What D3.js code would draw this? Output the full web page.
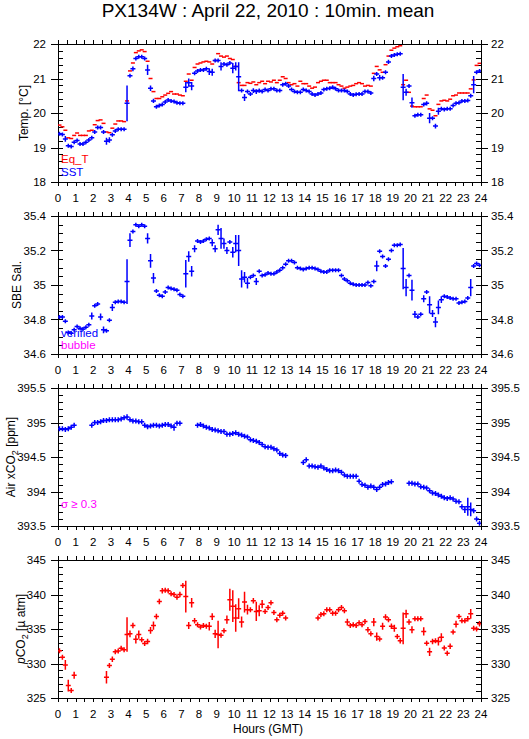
<!DOCTYPE html>
<meta charset="utf-8">
<style>
body { margin: 0; background: #fff; }
text { font-family: "Liberation Sans", Arial, sans-serif; fill: #000; }
.frame { fill: none; stroke: #000; stroke-width: 1px; }
.tick { stroke: #000; stroke-width: 1px; shape-rendering: crispEdges; }
</style>
<body>
<script src="https://d3js.org/d3.v7.min.js"></script>
<script>

var width = 529, height = 739;

var hours = d3.range(0, 25);

// 10 min means, 144 per series (index i is centred at (i + 0.5) / 6 h)
var eqT = [
  19.65, 19.60, 19.50, 19.28, 19.26, 19.35,
  19.42, 19.35, 19.35, 19.35, 19.48, 19.50,
  19.66, 19.78, 19.80, 19.70, 19.45, 19.43,
  19.56, 19.68, 19.77, 19.77, 19.75, 20.35,
  21.22, 21.45, 21.75, 21.80, 21.83, 21.78,
  21.50, 21.00, 20.62, 20.42, 20.42, 20.47,
  20.52, 20.57, 20.62, 20.55, 20.55, 20.52,
  20.50, 20.92, 21.13, 20.95, 21.32, 21.42,
  21.45, 21.48, 21.50, 21.48, 21.42, 21.52,
  21.72, 21.65, 21.62, 21.65, 21.58, 21.55,
  21.35, 20.88, 20.80, 20.80, 20.88, 20.86,
  20.90, 20.82, 20.88, 20.92, 20.85, 20.92,
  20.90, 20.95, 20.88, 20.95, 21.05, 21.00,
  20.88, 20.82, 20.85, 20.78, 20.92, 20.85,
  20.85, 20.78, 20.72, 20.75, 20.88, 20.92,
  20.95, 20.95, 20.88, 20.88, 20.88, 20.82,
  20.78, 20.72, 20.75, 20.78, 20.80, 20.85,
  20.88, 20.85, 20.78, 20.80, 20.78, 21.15,
  21.35, 21.25, 21.18, 21.40, 21.65, 21.82,
  21.88, 21.92, 21.95, 20.82, 20.95, 20.60,
  20.20, 20.18, 20.18, 20.18, 20.42, 20.52,
  20.12, 20.08, 19.92, 20.25, 20.35, 20.37,
  20.35, 20.40, 20.50, 20.52, 20.58, 20.58,
  20.58, 20.58, 20.70, 20.96, 21.38, 21.44
];

var sst = [
  19.40, 19.38, 19.25, 19.05, 19.03, 19.15,
  19.20, 19.10, 19.10, 19.15, 19.22, 19.28,
  19.45, 19.58, 19.58, 19.45, 19.18, 19.22,
  19.37, 19.48, 19.53, 19.53, 19.53, 20.28,
  21.08, 21.28, 21.58, 21.63, 21.63, 21.58,
  21.25, 20.72, 20.35, 20.18, 20.22, 20.25,
  20.32, 20.38, 20.35, 20.33, 20.30, 20.28,
  20.28, 20.75, 20.88, 20.78, 21.15, 21.22,
  21.25, 21.25, 21.28, 21.20, 21.18, 21.52,
  21.52, 21.35, 21.42, 21.40, 21.45, 21.30,
  21.35, 21.05, 20.65, 20.45, 20.62, 20.55,
  20.65, 20.62, 20.65, 20.62, 20.68, 20.65,
  20.70, 20.70, 20.65, 20.65, 20.82, 20.85,
  20.78, 20.68, 20.62, 20.60, 20.60, 20.68,
  20.65, 20.62, 20.55, 20.52, 20.55, 20.58,
  20.68, 20.70, 20.72, 20.75, 20.70, 20.65,
  20.65, 20.65, 20.62, 20.55, 20.52, 20.54,
  20.55, 20.55, 20.62, 20.62, 20.58, 21.00,
  21.13, 21.02, 21.02, 21.18, 21.48, 21.65,
  21.68, 21.70, 21.72, 20.75, 20.60, 20.78,
  20.30, 19.92, 19.95, 19.95, 20.25, 20.28,
  19.85, 19.85, 19.62, 20.05, 20.12, 20.10,
  20.12, 20.12, 20.22, 20.28, 20.30, 20.35,
  20.35, 20.36, 20.50, 20.82, 21.18, 21.22
];

var sstSd = [
  .02, .02, .08, .02, .02, .03,
  .03, .02, .02, .02, .02, .03,
  .03, .02, .02, .02, .10, .08,
  .02, .02, .02, .02, .02, .52,
  .06, .07, .03, .02, .02, .02,
  .15, .08, .06, .02, .02, .02,
  .02, .02, .02, .02, .02, .02,
  .02, .15, .12, .12, .03, .03,
  .02, .02, .02, .10, .10, .03,
  .03, .12, .03, .02, .03, .15,
  .12, .42, .05, .10, .05, .05,
  .07, .07, .06, .05, .02, .02,
  .02, .02, .02, .02, .03, .02,
  .02, .02, .03, .02, .02, .02,
  .02, .02, .02, .02, .02, .02,
  .02, .02, .02, .02, .02, .02,
  .02, .02, .02, .02, .02, .02,
  .02, .02, .02, .03, .03, .08,
  .03, .08, .05, .03, .06, .03,
  .03, .02, .02, .38, .10, .05,
  .15, .03, .03, .05, .03, .06,
  .15, .05, .07, .10, .05, .03,
  .03, .02, .02, .02, .02, .02,
  .02, .02, .04, .25, .03, .02
];

var sal = [
  34.815, 34.815, 34.790, 34.725, 34.720, 34.740,
  34.760, 34.750, 34.745, 34.755, 34.770, 34.820,
  34.880, 34.890, 34.815, 34.740, 34.735, 34.795,
  34.870, 34.900, 34.905, 34.905, 34.900, 35.020,
  35.260, 35.310, 35.350, 35.340, 35.350, 35.340,
  35.270, 35.140, 35.040, 34.965, 34.940, 34.935,
  34.960, 34.985, 34.980, 34.975, 34.970, 34.945,
  34.935, 35.065, 35.165, 35.080, 35.210, 35.255,
  35.250, 35.255, 35.265, 35.270, 35.245, 35.210,
  35.320, 35.270, 35.240, 35.200, 35.250, 35.190,
  35.240, 35.200, 35.035, 35.045, 35.010, 35.045,
  35.055, 35.020, 35.080, 35.055, 35.060, 35.070,
  35.065, 35.065, 35.075, 35.085, 35.100, 35.120,
  35.140, 35.140, 35.130, 35.100, 35.095, 35.090,
  35.095, 35.100, 35.100, 35.095, 35.090, 35.080,
  35.075, 35.075, 35.085, 35.085, 35.085, 35.085,
  35.055, 35.035, 35.025, 35.010, 35.005, 35.000,
  35.000, 35.000, 35.000, 35.015, 34.995, 35.020,
  35.110, 35.195, 35.165, 35.110, 35.150, 35.200,
  35.230, 35.230, 35.235, 35.095, 34.985, 35.055,
  34.970, 34.830, 34.815, 34.830, 34.920, 34.960,
  34.885, 34.835, 34.785, 34.870, 34.915, 34.935,
  34.930, 34.925, 34.920, 34.920, 34.895, 34.900,
  34.905, 34.925, 34.985, 35.110, 35.125, 35.115
];

var salSd = [
  .005, .005, .010, .010, .005, .010,
  .010, .010, .010, .010, .010, .020,
  .010, .010, .020, .020, .010, .010,
  .020, .005, .005, .005, .005, .130,
  .040, .010, .005, .005, .005, .005,
  .030, .040, .030, .010, .005, .005,
  .010, .005, .005, .005, .005, .005,
  .005, .080, .030, .030, .020, .005,
  .005, .005, .005, .005, .020, .020,
  .030, .060, .030, .020, .010, .030,
  .050, .090, .050, .030, .030, .010,
  .010, .020, .010, .010, .005, .005,
  .005, .005, .005, .005, .005, .005,
  .005, .005, .005, .005, .005, .005,
  .005, .005, .005, .005, .005, .005,
  .005, .005, .005, .005, .005, .005,
  .005, .005, .005, .005, .005, .005,
  .005, .005, .005, .005, .005, .010,
  .030, .010, .010, .010, .005, .010,
  .005, .005, .005, .120, .050, .010,
  .060, .020, .010, .010, .020, .010,
  .050, .020, .030, .040, .020, .005,
  .005, .005, .005, .005, .005, .005,
  .005, .010, .050, .010, .005, .005
];

var xco2 = [
  394.91, 394.91, 394.90, 394.91, 394.93, 394.96,
  null, null, null, null, null, 394.96,
  395.00, 395.00, 395.01, 395.03, 395.03, 395.04,
  395.04, 395.04, 395.04, 395.05, 395.07, 395.08,
  395.04, 395.02, 395.02, 395.01, 395.01, 394.96,
  394.94, 394.95, 394.96, 394.96, 394.95, 394.96,
  394.97, 394.97, 394.95, 394.93, 394.99, 394.99,
  null, null, null, null, null, 394.96,
  394.97, 394.95, 394.93, 394.92, 394.90, 394.89,
  394.88, 394.87, 394.87, 394.83, 394.83, 394.84,
  394.85, 394.83, 394.82, 394.80, 394.79, 394.75,
  394.74, 394.73, 394.71, 394.68, 394.65, 394.64,
  394.64, 394.62, 394.60, 394.55, 394.53, 394.52,
  null, null, null, null, null, 394.42,
  394.46, 394.37, 394.37, 394.36, 394.35, 394.37,
  394.34, 394.32, 394.30, 394.30, 394.31, 394.30,
  394.28, 394.24, 394.22, 394.22, 394.22, 394.22,
  394.15, 394.10, 394.09, 394.06, 394.08, 394.06,
  394.03, 394.06, 394.10, 394.11, 394.13, 394.14,
  null, null, null, null, null, 394.12,
  394.12, 394.11, 394.11, 394.07, 394.06, 394.05,
  394.01, 393.98, 393.97, 393.95, 393.93, 393.91,
  393.90, 393.91, 393.89, 393.86, 393.85, 393.78,
  393.74, 393.78, 393.74, 393.72, 393.60, 393.54
];

var xco2Sd = [
  .02, .02, .02, .02, .02, .02,
  0, 0, 0, 0, 0, .02,
  .02, .02, .02, .02, .02, .02,
  .02, .02, .02, .02, .02, .04,
  .02, .02, .02, .02, .02, .02,
  .02, .02, .02, .02, .02, .02,
  .02, .02, .02, .05, .02, .03,
  0, 0, 0, 0, 0, .02,
  .02, .02, .03, .02, .03, .02,
  .02, .02, .02, .02, .02, .02,
  .02, .03, .02, .02, .02, .02,
  .02, .02, .02, .02, .02, .02,
  .02, .02, .02, .02, .02, .02,
  0, 0, 0, 0, 0, .03,
  .03, .02, .02, .02, .03, .02,
  .02, .02, .02, .02, .02, .02,
  .02, .02, .02, .02, .02, .02,
  .03, .02, .02, .02, .02, .02,
  .02, .02, .02, .02, .02, .02,
  0, 0, 0, 0, 0, .02,
  .02, .02, .02, .02, .02, .02,
  .02, .02, .02, .02, .02, .02,
  .02, .02, .02, .02, .02, .03,
  .05, .13, .10, .02, .03, .02
];

var pco2 = [
  331.86, 330.90, 329.80, 326.80, 326.10, 328.30,
  null, null, null, null, null, null,
  null, null, null, null, 328.00, 329.70,
  330.60, 331.70, 331.80, 332.20, 332.00, 334.20,
  334.30, 335.50, 333.50, 334.20, 333.45, 332.90,
  333.20, 334.80, 335.50, 336.80, 339.00, 340.55,
  340.60, 340.55, 340.10, 340.00, 339.60, 340.00,
  341.30, 339.70, 335.50, 338.80, 336.20, 335.60,
  335.30, 335.50, 335.40, 335.40, 336.80, 334.30,
  334.20, 334.10, 334.75, 336.35, 339.25, 338.30,
  336.60, 337.95, 336.00, 338.90, 337.80, 337.80,
  339.10, 337.55, 337.65, 338.60, 337.55, 338.10,
  338.80, 337.40, 336.35, 337.00, 337.30, 336.60,
  null, null, null, null, null, null,
  null, null, null, null, 336.60, 337.10,
  337.20, 337.80, 337.80, 337.30, 337.30, 337.80,
  338.10, 337.65, 336.00, 335.50, 335.60, 335.50,
  335.90, 335.60, 336.10, 334.90, 334.30, 336.00,
  333.90, 333.55, 335.40, 336.75, 336.35, 335.40,
  335.10, 333.90, 333.30, 335.10, 337.20, 336.00,
  334.90, 336.50, 336.50, 336.50, 334.65, 332.95,
  331.70, 333.20, 333.30, 333.20, 333.80, 332.25,
  331.50, 332.50, 334.55, 335.70, 336.80, 336.20,
  336.20, 336.50, 337.20, 335.10, 335.00, 335.75
];

var pco2Sd = [
  .15, .3, .7, .85, .3, .5,
  0, 0, 0, 0, 0, 0,
  0, 0, 0, 0, .9, .2,
  .4, .2, .2, .2, .2, 2.5,
  .5, .4, .6, .6, .3, .2,
  .4, .5, .6, .4, .4, .4,
  .2, .2, .2, .2, .2, .4,
  .3, 2.3, .5, .7, .4, .2,
  .2, .2, .2, .6, .5, .6,
  2.0, .3, .3, .6, 1.6, 2.3,
  2.0, 1.5, .8, 1.5, .7, .3,
  .4, 1.4, .8, .6, .3, .3,
  .2, .3, .3, .3, .3, .3,
  0, 0, 0, 0, 0, 0,
  0, 0, 0, 0, .3, .2,
  .2, .3, .2, .2, .2, .2,
  .2, .3, .5, .3, .2, .2,
  .2, .2, .3, .4, .3, .6,
  .6, .3, .5, .4, .3, .4,
  .5, .3, .4, 2.3, .6, .4,
  .5, .3, .3, .3, .6, .2,
  .6, .4, .3, .6, .6, .3,
  .3, .4, .3, .5, .3, .3,
  .2, .4, .7, .3, .3, .4
];

var svg = d3.select("body").append("svg")
    .attr("width", width)
    .attr("height", height);

var x = d3.scaleLinear().domain([0, 24]).range([58, 481]);
var panelH = 138;

function tOf(i) { return (i + 0.5) / 6; }

function fmt(v) { return String(+v.toFixed(2)); }

function drawPanel(p) {
  var top = p.top, bottom = top + panelH;
  var y = d3.scaleLinear().domain(p.domain).range([bottom, top]);
  var g = svg.append("g");

  g.append("clipPath").attr("id", "clip" + p.id)
    .append("rect")
      .attr("x", x(0)).attr("y", top)
      .attr("width", x(24) - x(0)).attr("height", panelH);

  // x ticks every half hour, outward, top and bottom
  var xt = d3.range(0, 49).map(function(k) { return k / 2; });
  g.selectAll(".xtb").data(xt).enter().append("line")
      .attr("class", "tick")
      .attr("x1", function(d) { return Math.round(x(d)) + 0.5; })
      .attr("x2", function(d) { return Math.round(x(d)) + 0.5; })
      .attr("y1", bottom).attr("y2", bottom + 4);
  g.selectAll(".xtt").data(xt).enter().append("line")
      .attr("class", "tick")
      .attr("x1", function(d) { return Math.round(x(d)) + 0.5; })
      .attr("x2", function(d) { return Math.round(x(d)) + 0.5; })
      .attr("y1", top - 4).attr("y2", top);

  g.selectAll(".xl").data(hours).enter().append("text")
      .attr("x", function(d) { return x(d); })
      .attr("y", bottom + 20)
      .attr("text-anchor", "middle")
      .style("font-size", "11.5px")
      .text(function(d) { return d; });

  // y ticks
  var n = Math.round((p.domain[1] - p.domain[0]) / p.minor);
  var yt = d3.range(0, n + 1).map(function(k) { return p.domain[0] + k * p.minor; });
  var every = Math.round(p.major / p.minor);
  yt.forEach(function(v, k) {
    var yy = Math.round(y(v)) + 0.5;
    var isMajor = k % every === 0;
    g.append("line").attr("class", "tick")
        .attr("x1", x(0) - (isMajor ? 7 : 0)).attr("x2", x(0) + 5)
        .attr("y1", yy).attr("y2", yy);
    g.append("line").attr("class", "tick")
        .attr("x1", x(24) - 5).attr("x2", x(24) + (isMajor ? 7 : 0))
        .attr("y1", yy).attr("y2", yy);
    if (isMajor) {
      g.append("text")
          .attr("x", x(0) - 12).attr("y", y(v) + 4)
          .attr("text-anchor", "end")
          .style("font-size", "11.5px")
          .text(fmt(v));
      g.append("text")
          .attr("x", x(24) + 10).attr("y", y(v) + 4)
          .style("font-size", "11.5px")
          .text(fmt(v));
    }
  });

  g.append("rect").attr("class", "frame")
      .attr("x", Math.round(x(0)) + 0.5).attr("y", top + 0.5)
      .attr("width", Math.round(x(24)) - Math.round(x(0))).attr("height", panelH);

  // axis title, placed left of the tick labels
  var lt = g.append("text")
      .attr("transform", "translate(" + p.titleX + "," + (top + panelH / 2) + ") rotate(-90)")
      .attr("text-anchor", "middle")
      .style("font-size", "12px");
  p.label(lt);

  // series
  var pg = g.append("g").attr("clip-path", "url(#clip" + p.id + ")");
  p.series.forEach(function(s) {
    var pts = s.values.map(function(v, i) {
      return { t: tOf(i), v: v, sd: s.sd ? s.sd[i] : 0 };
    }).filter(function(d) { return d.v != null; });
    pg.selectAll(null).data(pts).enter().append("path")
        .attr("fill", "none")
        .attr("stroke", s.color)
        .attr("stroke-width", 1.5)
        .attr("d", function(d) {
          var cx = x(d.t), cy = y(d.v);
          var path = "M" + (cx - s.hw) + "," + cy + "H" + (cx + s.hw);
          if (s.sd) {
            var y1 = Math.min(y(d.v + d.sd), cy - s.vmin);
            var y2 = Math.max(y(d.v - d.sd), cy + s.vmin);
            path += "M" + cx + "," + y1 + "V" + y2;
          }
          return path;
        });
  });

  // legend
  p.legend.forEach(function(l) {
    g.append("text")
        .attr("x", 61).attr("y", l.y)
        .style("fill", l.color)
        .style("font-size", "11.5px")
        .text(l.text);
  });
}

svg.append("text")
    .attr("x", 268).attr("y", 17)
    .attr("text-anchor", "middle")
    .style("font-size", "19px")
    .text("PX134W : April 22, 2010 : 10min. mean");

drawPanel({
  id: 1, top: 44, domain: [18, 22], major: 1, minor: 0.2, titleX: 28,
  label: function(t) { t.text("Temp. [°C]"); },
  series: [
    { values: eqT, color: "#ff0000", hw: 2 },
    { values: sst, sd: sstSd, color: "#0000ff", hw: 2.5, vmin: 2 }
  ],
  legend: [
    { text: "Eq_T", color: "#ff0000", y: 163 },
    { text: "SST", color: "#0000ff", y: 176 }
  ]
});

drawPanel({
  id: 2, top: 216, domain: [34.6, 35.4], major: 0.2, minor: 0.05, titleX: 21,
  label: function(t) { t.text("SBE Sal."); },
  series: [
    { values: sal, sd: salSd, color: "#0000ff", hw: 2.5, vmin: 2 }
  ],
  legend: [
    { text: "verified", color: "#0000ff", y: 337 },
    { text: "bubble", color: "#ff00ff", y: 349 }
  ]
});

drawPanel({
  id: 3, top: 388, domain: [393.5, 395.5], major: 0.5, minor: 0.1, titleX: 15,
  label: function(t) {
    t.append("tspan").text("Air xCO");
    t.append("tspan").attr("dy", 3).style("font-size", "9px").text("2");
    t.append("tspan").attr("dy", -3).text(" [ppm]");
  },
  series: [
    { values: xco2, sd: xco2Sd, color: "#0000ff", hw: 2.5, vmin: 2.5 }
  ],
  legend: [{ text: "σ ≥ 0.3", color: "#ff00ff", y: 508 }]
});

drawPanel({
  id: 4, top: 560, domain: [325, 345], major: 5, minor: 1, titleX: 25,
  label: function(t) {
    t.append("tspan").style("font-style", "italic").text("p");
    t.append("tspan").text("CO");
    t.append("tspan").attr("dy", 3).style("font-size", "9px").text("2");
    t.append("tspan").attr("dy", -3).text(" [µ atm]");
  },
  series: [
    { values: pco2, sd: pco2Sd, color: "#ff0000", hw: 2.5, vmin: 2.5 }
  ],
  legend: []
});

svg.append("text")
    .attr("x", 268).attr("y", 733)
    .attr("text-anchor", "middle")
    .style("font-size", "12px")
    .text("Hours (GMT)");

</script>
